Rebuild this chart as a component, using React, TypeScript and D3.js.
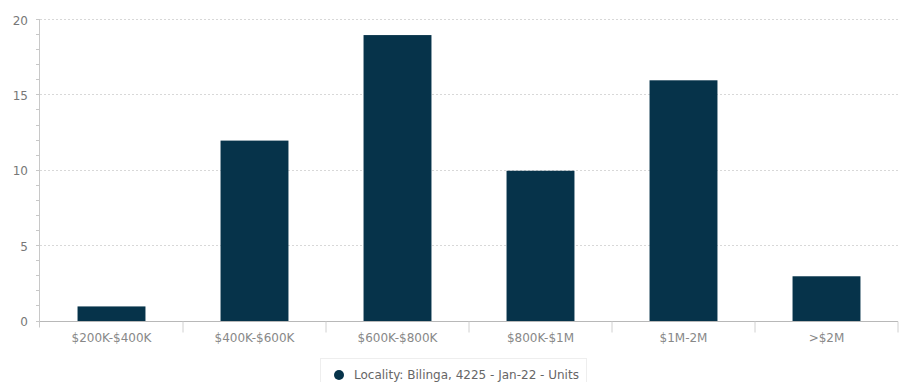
import React from "react";
import * as d3 from "d3";

const categories = ["$200K-$400K", "$400K-$600K", "$600K-$800K", "$800K-$1M", "$1M-2M", ">$2M"];
const values = [1, 12, 19, 10, 16, 3];
const yTicks = [0, 5, 10, 15, 20];
const minorTicks = d3.range(0, 21, 1);
const legendLabel = "Locality: Bilinga, 4225 - Jan-22 - Units";

const W = 901;
const H = 382;
const left = 40;
const right = 898;
const top = 20;
const bottom = 321.5;
const barColor = "#06334a";
const font = "DejaVu Sans, Verdana, sans-serif";

export default function App() {
  const x = d3.scaleBand<string>().domain(categories).range([left, right]).paddingInner(0.525).paddingOuter(0.2625);
  const xOuter = d3.scaleBand<string>().domain(categories).range([left, right]);
  const y = d3.scaleLinear().domain([0, 20]).range([bottom, top]);
  const ly = (t: number) => Math.round(y(t)) - 0.5;
  return (
    <svg width={W} height={H} style={{ position: "absolute", left: 0, top: 0, background: "#fff" }}>
      {yTicks.filter((t) => t > 0).map((t) => (
        <line key={"g" + t} x1={left} x2={right} y1={ly(t)} y2={ly(t)} stroke="#d8d8d8" strokeWidth={1} strokeDasharray="2,2" />
      ))}
      {values.map((v, i) => (
        <rect key={i} x={x(categories[i])} y={y(v)} width={x.bandwidth()} height={bottom - y(v)} fill={barColor} />
      ))}
      <line x1={left - 0.5} x2={left - 0.5} y1={top - 1} y2={bottom + 6} stroke="#c8c8c8" />
      {minorTicks.map((t) => (
        <line key={"m" + t} x1={left - 4} x2={left} y1={ly(t)} y2={ly(t)} stroke="#c8c8c8" />
      ))}
      <line x1={left} x2={right} y1={321.5} y2={321.5} stroke="#b8b8b8" />
      {categories.map((c) => (
        <line key={"xt" + c} x1={(xOuter(c) as number) + xOuter.bandwidth()} x2={(xOuter(c) as number) + xOuter.bandwidth()} y1={bottom} y2={bottom + 11} stroke="#d0d0d0" />
      ))}
      {yTicks.map((t) => (
        <text key={"yl" + t} x={28} y={y(t) + 4.5} textAnchor="end" fontFamily={font} fontSize={12} fill="#777">{t}</text>
      ))}
      {categories.map((c) => (
        <text key={"xl" + c} x={(xOuter(c) as number) + xOuter.bandwidth() / 2} y={342} textAnchor="middle" fontFamily={font} fontSize={12} fill="#888">{c}</text>
      ))}
      <rect x={320.5} y={358.5} width={266} height={26} fill="#fff" stroke="#eeeeee" />
      <circle cx={339} cy={375} r={5} fill={barColor} />
      <text x={354} y={379} fontFamily={font} fontSize={12} fill="#666">{legendLabel}</text>
    </svg>
  );
}
